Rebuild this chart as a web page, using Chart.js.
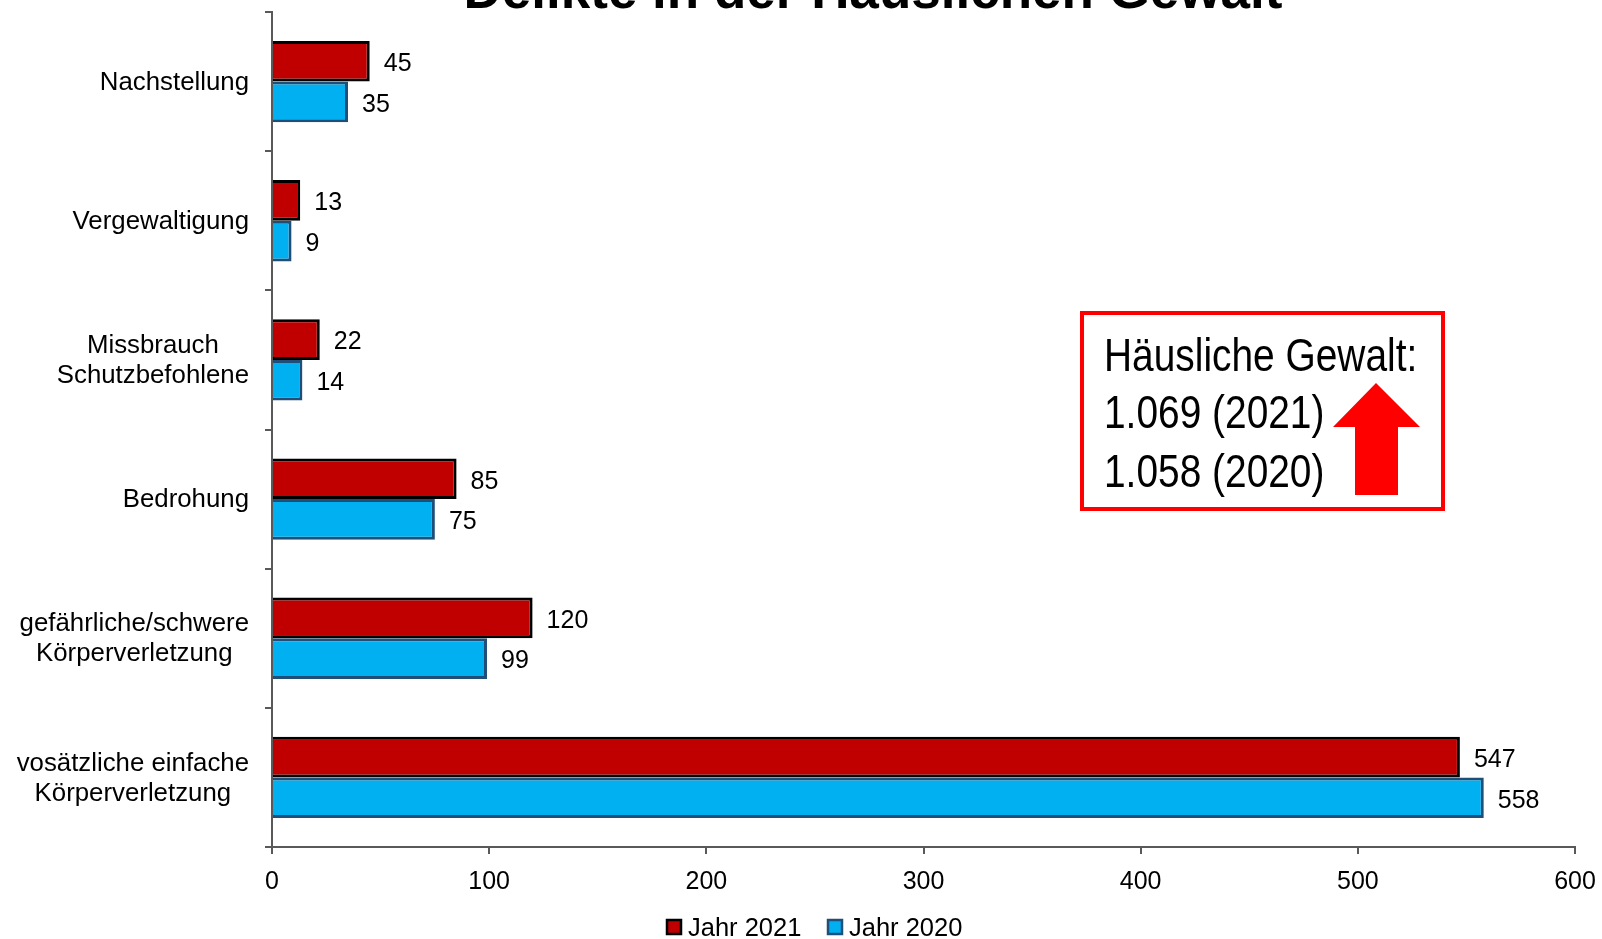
<!DOCTYPE html>
<html>
<head>
<meta charset="utf-8">
<script src="https://cdn.jsdelivr.net/npm/chart.js@4"></script>
<style>
    html, body { margin: 0; padding: 0; background: #fff; }
    #wrap { width: 1602px; height: 939px; }
</style>
</head>
<body>
<div id="wrap"><canvas id="myChart" width="1602" height="939"></canvas></div>
<script>
const categories = [
    ['Nachstellung'],
    ['Vergewaltigung'],
    ['Missbrauch', 'Schutzbefohlene'],
    ['Bedrohung'],
    ['gefährliche/schwere', 'Körperverletzung'],
    ['vosätzliche einfache', 'Körperverletzung']
];
const values2021 = [45, 13, 22, 85, 120, 547];
const values2020 = [35, 9, 14, 75, 99, 558];
const xTicks = [0, 100, 200, 300, 400, 500, 600];
const chartTitle = 'Delikte in der Häuslichen Gewalt';
const boxLines = ['Häusliche Gewalt:', '1.069 (2021)', '1.058 (2020)'];

const FONT = '"Liberation Sans", Arial, sans-serif';

document.addEventListener('DOMContentLoaded', () => {
    const ctx = document.getElementById('myChart').getContext('2d');

    // title (cut off at the top, like the source image)
    const titlePlugin = {
        id: 'titleTop',
        afterDraw(chart) {
            const c = chart.ctx;
            c.save();
            c.font = 'bold 53px ' + FONT;
            c.fillStyle = '#000';
            c.textAlign = 'center';
            c.textBaseline = 'alphabetic';
            c.fillText(chartTitle, 873, 8);
            c.restore();
        }
    };

    // category labels: centred lines, block right-aligned next to the axis
    const yLabels = {
        id: 'yLabels',
        afterDraw(chart) {
            const c = chart.ctx;
            const y = chart.scales.y;
            c.save();
            c.font = '25.8px ' + FONT;
            c.fillStyle = '#000';
            c.textAlign = 'center';
            c.textBaseline = 'middle';
            categories.forEach((lines, i) => {
                const cy = y.getPixelForTick(i) + 1;
                const widest = Math.max(...lines.map(l => c.measureText(l).width));
                const cx = 249 - widest / 2;
                const lh = 30;
                lines.forEach((l, j) => {
                    c.fillText(l, cx, cy + (j - (lines.length - 1) / 2) * lh);
                });
            });
            c.restore();
        }
    };

    const valueLabels = {
        id: 'valueLabels',
        afterDatasetsDraw(chart) {
            const c = chart.ctx;
            c.save();
            c.font = '25px ' + FONT;
            c.fillStyle = '#000';
            c.textAlign = 'left';
            c.textBaseline = 'middle';
            chart.data.datasets.forEach((ds, di) => {
                chart.getDatasetMeta(di).data.forEach((bar, i) => {
                    c.fillText(ds.data[i], bar.x + 14, bar.y + 3);
                });
            });
            c.restore();
        }
    };

    // legend at the bottom, cut off like the source
    const bottomLegend = {
        id: 'bottomLegend',
        afterDraw(chart) {
            const c = chart.ctx;
            const boxX = [667, 828];
            c.save();
            c.font = '25.5px ' + FONT;
            c.textAlign = 'left';
            c.textBaseline = 'alphabetic';
            chart.data.datasets.forEach((ds, i) => {
                c.fillStyle = ds.backgroundColor;
                c.fillRect(boxX[i], 920, 14, 14);
                c.strokeStyle = ds.borderColor;
                c.lineWidth = 2.5;
                c.strokeRect(boxX[i], 920, 14, 14);
                c.fillStyle = '#000';
                c.fillText(ds.label, boxX[i] + 21, 936);
            });
            c.restore();
        }
    };

    const infoBox = {
        id: 'infoBox',
        afterDraw(chart) {
            const c = chart.ctx;
            c.save();
            c.fillStyle = '#fff';
            c.fillRect(1082, 313, 361, 196);
            c.strokeStyle = '#ff0000';
            c.lineWidth = 4;
            c.strokeRect(1082, 313, 361, 196);

            // arrow
            c.fillStyle = '#ff0000';
            c.beginPath();
            c.moveTo(1376, 383);
            c.lineTo(1420, 427);
            c.lineTo(1398, 427);
            c.lineTo(1398, 495);
            c.lineTo(1355, 495);
            c.lineTo(1355, 427);
            c.lineTo(1333, 427);
            c.closePath();
            c.fill();

            c.fillStyle = '#000';
            c.font = '46px ' + FONT;
            c.textAlign = 'left';
            c.textBaseline = 'alphabetic';
            const baselines = [371, 428, 487];
            boxLines.forEach((t, i) => {
                c.save();
                c.translate(1104, baselines[i]);
                c.scale(0.845, 1);
                c.fillText(t, 0, 0);
                c.restore();
            });
            c.restore();
        }
    };

    new Chart(ctx, {
        type: 'bar',
        data: {
            labels: categories.map(l => l.join(' ')),
            datasets: [{
                label: 'Jahr 2021',
                data: values2021,
                backgroundColor: '#c00000',
                borderColor: '#000000',
                borderWidth: 3,
                categoryPercentage: 0.585,
                barPercentage: 1.0
            }, {
                label: 'Jahr 2020',
                data: values2020,
                backgroundColor: '#00b0f0',
                borderColor: '#1f4e79',
                borderWidth: 3,
                categoryPercentage: 0.585,
                barPercentage: 1.0
            }]
        },
        options: {
            indexAxis: 'y',
            responsive: false,
            animation: false,
            layout: {
                padding: { top: 12, right: 27, left: 0, bottom: 42 }
            },
            scales: {
                x: {
                    min: 0,
                    max: 600,
                    afterBuildTicks: (scale) => {
                        scale.ticks = xTicks.map(v => ({ value: v }));
                    },
                    afterFit: (scale) => {
                        scale.height = 50;
                        scale.paddingLeft = 0;
                        scale.paddingRight = 0;
                    },
                    grid: {
                        display: true,
                        drawOnChartArea: false,
                        drawTicks: true,
                        tickLength: 7,
                        color: '#595959',
                        lineWidth: 2
                    },
                    border: { color: '#595959', width: 2 },
                    ticks: {
                        color: '#000',
                        padding: 13,
                        font: { family: FONT, size: 25 }
                    }
                },
                y: {
                    grid: {
                        display: true,
                        drawOnChartArea: false,
                        drawTicks: true,
                        tickLength: 7,
                        offset: true,
                        color: '#595959',
                        lineWidth: 2
                    },
                    border: { color: '#595959', width: 2 },
                    ticks: { display: false },
                    afterFit: (scale) => {
                        scale.width = 272;
                    }
                }
            },
            plugins: {
                legend: { display: false },
                tooltip: { enabled: false },
                title: { display: false }
            }
        },
        plugins: [titlePlugin, yLabels, valueLabels, bottomLegend, infoBox]
    });
});
</script>
</body>
</html>
